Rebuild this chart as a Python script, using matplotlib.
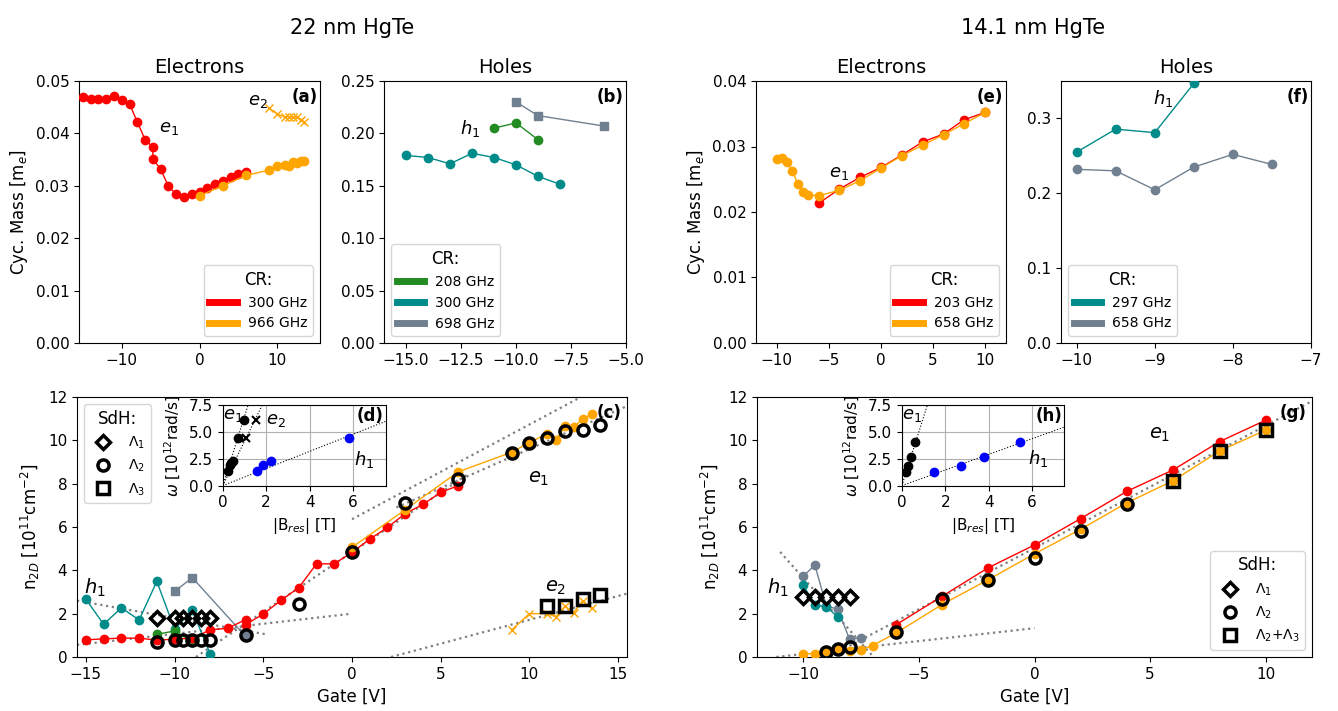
import numpy as np
import matplotlib
matplotlib.use("Agg")
import matplotlib.pyplot as plt
from matplotlib.lines import Line2D

# ---- 22 nm HgTe, electrons (CR) ----
gate_e1_300 = [-15, -14, -13, -12, -11, -10, -9, -8, -7, -6, -6, -5, -4, -3, -2, -1, 0, 1, 2, 3, 4, 5, 6]
mass_e1_300 = [0.0470, 0.0466, 0.0466, 0.0466, 0.0472, 0.0464, 0.0456, 0.0422, 0.0388, 0.0374, 0.0351, 0.0332,
               0.0299, 0.0284, 0.0278, 0.0284, 0.0289, 0.0295, 0.0303, 0.0310, 0.0316, 0.0323, 0.0326]
dens_e1_300 = [0.79, 0.84, 0.87, 0.87, 0.78, 0.82, 0.87, 1.25, 1.33, 1.72, 1.5, 1.98,
               2.62, 3.2, 4.3, 4.3, 4.83, 5.44, 5.98, 6.62, 7.04, 7.6, 7.91]
gate_e1_966 = [0, 3, 6, 9, 10, 11, 11.5, 12, 12.5, 13, 13.5]
mass_e1_966 = [0.0281, 0.0300, 0.0320, 0.0330, 0.0337, 0.0340, 0.0337, 0.0346, 0.0343, 0.0348, 0.0348]
dens_e1_966 = [5.06, 6.8, 8.55, 9.45, 9.9, 10.3, 10.0, 10.65, 10.6, 11.0, 11.2]
gate_e2_966 = [9, 10, 11, 11.5, 12, 12.5, 13, 13.5]
mass_e2_966 = [0.0448, 0.0437, 0.0431, 0.0432, 0.0431, 0.0431, 0.0426, 0.0422]
dens_e2_966 = [1.25, 2.0, 2.0, 1.86, 2.35, 2.05, 2.6, 2.24]

# ---- 22 nm HgTe, holes (CR) ----
gate_h_208 = [-11, -10, -9]
mass_h_208 = [0.205, 0.210, 0.194]
dens_h_208 = [1.05, 1.2, 0.7]
gate_h_300 = [-15, -14, -13, -12, -11, -10, -9, -8]
mass_h_300 = [0.179, 0.177, 0.171, 0.181, 0.177, 0.170, 0.159, 0.1515]
dens_h_300 = [2.67, 1.51, 2.27, 1.71, 3.49, 1.28, 2.16, 0.15]
gate_h_698 = [-10, -9, -6]
mass_h_698 = [0.230, 0.217, 0.207]
dens_h_698 = [3.03, 3.66, 0.95]

# ---- 22 nm SdH ----
sdh1_gate = [-11, -10, -9.5, -9, -8.5, -8]
sdh1_dens = [1.82, 1.82, 1.82, 1.82, 1.82, 1.82]
sdh2_gate = [-11, -10, -9.5, -9, -8.5, -8, -6, -3, 0, 3, 6, 9, 10, 11, 12, 13, 14]
sdh2_dens = [0.68, 0.79, 0.8, 0.78, 0.8, 0.8, 1.02, 2.44, 4.86, 7.12, 8.21, 9.42, 9.87, 10.1, 10.45, 10.5, 10.72]
sdh3_gate = [11, 12, 13, 14]
sdh3_dens = [2.36, 2.36, 2.67, 2.85]

# fit lines (slope, intercept, x range)
fits_c = [(0.55, 4.84, -8.8, 6.5), (0.437, 6.36, 0, 15.5), (0.36, 6.0, 2.5, 15.5),
          (-0.146, 0.34, -15.5, -4.8), (0.093, 2.0, -15.5, 0), (0.22, -0.484, 2.2, 15.5)]

# inset (d)
d_e1_B = [0.23, 0.34, 0.40, 0.46, 0.70, 0.98]
d_e1_w = [1.34, 1.9, 2.15, 2.34, 4.45, 6.15]
d_e2_B = [1.09, 1.52]
d_e2_w = [4.45, 6.15]
d_h1_B = [1.58, 1.86, 2.2, 5.8]
d_h1_w = [1.34, 1.9, 2.34, 4.45]
d_slopes = [6.45, 4.14, 0.80]

# ---- 14.1 nm HgTe ----
gate_g_203 = [-6, -4, -2, 0, 2, 4, 6, 8, 10]
mass_g_203 = [0.0213, 0.0235, 0.0253, 0.0268, 0.0287, 0.0307, 0.0319, 0.0341, 0.0352]
dens_g_203 = [1.48, 2.8, 4.12, 5.17, 6.39, 7.65, 8.64, 9.94, 10.93]
gate_g_658 = [-10, -9.5, -9, -8.5, -8, -7.5, -7, -6, -4, -2, 0, 2, 4, 6, 8, 10]
mass_g_658 = [0.0281, 0.0282, 0.0276, 0.0263, 0.0243, 0.0230, 0.0226, 0.0225, 0.0233, 0.0248,
              0.0267, 0.0286, 0.0302, 0.0318, 0.0335, 0.0352]
dens_g_658 = [0.15, 0.15, 0.26, 0.41, 0.28, 0.33, 0.53, 1.1, 2.42, 3.57, 4.76, 5.9, 7.12, 8.14, 9.51, 10.47]
gate_f_297 = [-10, -9.5, -9, -8.5]
mass_f_297 = [0.255, 0.2857, 0.281, 0.3467]
dens_f_297 = [3.31, 2.42, 2.3, 1.86]
gate_f_658 = [-10, -9.5, -9, -8.5, -8, -7.5]
mass_f_658 = [0.232, 0.230, 0.2047, 0.235, 0.252, 0.2385]
dens_f_658 = [3.72, 4.25, 2.36, 2.2, 0.82, 0.9]

g_sdh1_gate = [-10, -9.5, -9, -8.5, -8]
g_sdh1_dens = [2.77, 2.77, 2.77, 2.77, 2.77]
g_sdh2_gate = [-9, -8.5, -8, -6, -4, -2, 0, 2, 4]
g_sdh2_dens = [0.21, 0.37, 0.46, 1.14, 2.67, 3.54, 4.57, 5.82, 7.07]
g_sdh23_gate = [6, 8, 10]
g_sdh23_dens = [8.14, 9.51, 10.47]

fits_g = [(0.565, 5.03, -8.9, 12), (-1.2, -8.35, -11, -6.97), (0.119, 1.33, -11.16, 0)]

# inset (h)
h_e1_B = [0.19, 0.3, 0.41, 0.61]
h_e1_w = [1.27, 1.88, 2.65, 4.1]
h_h1_B = [1.5, 2.71, 3.77, 5.46]
h_h1_w = [1.27, 1.88, 2.65, 4.1]
h_slopes = [6.4, 0.73]

RED = 'red'
ORA = 'orange'
GRN = 'forestgreen'
TEAL = 'darkcyan'
GRAY = 'slategray'

plt.rcParams['font.size'] = 11
plt.rcParams['xtick.labelsize'] = 11
plt.rcParams['ytick.labelsize'] = 11
fig = plt.figure(figsize=(13.38, 7.11), dpi=100)
W, H = 1338., 711.


def box(x0, x1, y0, y1):
    return [x0 / W, 1 - y1 / H, (x1 - x0) / W, (y1 - y0) / H]


ax_a = fig.add_axes(box(79, 320, 81, 343))
ax_b = fig.add_axes(box(384, 626, 81, 343))
ax_e = fig.add_axes(box(756, 1006, 81, 343))
ax_f = fig.add_axes(box(1061, 1311, 81, 343))
ax_c = fig.add_axes(box(77, 627, 397, 657))
ax_g = fig.add_axes(box(757, 1312, 397, 657))


def dots(ax, x, y, c, m='o', ms=6, z=3):
    ax.plot(x, y, marker=m, color=c, ms=ms, lw=1, zorder=z)


def hollow(ax, x, y, m, ms=8):
    ax.plot(x, y, ls='none', marker=m, ms=ms, mfc='none', mec='k', mew=2.5, zorder=6)


def tag(ax, s):
    ax.text(0.99, 0.975, s, transform=ax.transAxes, ha='right', va='top',
            fontweight='bold', fontsize=12, zorder=10)


def cr_legend(ax, labels, colors, loc):
    hs = [Line2D([], [], color=c, lw=5) for c in colors]
    leg = ax.legend(hs, labels, title='CR:', loc=loc, fontsize=10, title_fontsize=12)
    return leg


# (a)
dots(ax_a, gate_e1_300, mass_e1_300, RED)
dots(ax_a, gate_e1_966, mass_e1_966, ORA)
dots(ax_a, gate_e2_966, mass_e2_966, ORA, m='x')
ax_a.set_xlim(-15.5, 15.5)
ax_a.set_ylim(0, 0.05)
ax_a.set_xticks([-10, 0, 10])
ax_a.set_yticks(np.arange(0, 0.051, 0.01))
ax_a.yaxis.set_major_formatter(matplotlib.ticker.FormatStrFormatter('%.2f'))
ax_a.set_ylabel('Cyc. Mass [m$_e$]', fontsize=12)
ax_a.set_title('Electrons', fontsize=14)
ax_a.text(-3.9, 0.041, '$e_1$', fontsize=13, ha='center', va='center')
ax_a.text(7.5, 0.0462, '$e_2$', fontsize=13, ha='center', va='center')
tag(ax_a, '(a)')
cr_legend(ax_a, ['300 GHz', '966 GHz'], [RED, ORA], 'lower right')

# (b)
dots(ax_b, gate_h_208, mass_h_208, GRN)
dots(ax_b, gate_h_300, mass_h_300, TEAL)
dots(ax_b, gate_h_698, mass_h_698, GRAY, m='s')
ax_b.set_xlim(-16, -5)
ax_b.set_ylim(0, 0.25)
ax_b.set_title('Holes', fontsize=14)
ax_b.text(-12.1, 0.205, '$h_1$', fontsize=13, ha='center', va='center')
tag(ax_b, '(b)')
cr_legend(ax_b, ['208 GHz', '300 GHz', '698 GHz'], [GRN, TEAL, GRAY], 'lower left')

# (e)
dots(ax_e, gate_g_203, mass_g_203, RED)
dots(ax_e, gate_g_658, mass_g_658, ORA)
ax_e.set_xlim(-12, 12)
ax_e.set_ylim(0, 0.04)
ax_e.set_yticks(np.arange(0, 0.041, 0.01))
ax_e.yaxis.set_major_formatter(matplotlib.ticker.FormatStrFormatter('%.2f'))
ax_e.set_ylabel('Cyc. Mass [m$_e$]', fontsize=12)
ax_e.set_title('Electrons', fontsize=14)
ax_e.text(-4.0, 0.026, '$e_1$', fontsize=13, ha='center', va='center')
tag(ax_e, '(e)')
cr_legend(ax_e, ['203 GHz', '658 GHz'], [RED, ORA], 'lower right')

# (f)
dots(ax_f, gate_f_297, mass_f_297, TEAL)
dots(ax_f, gate_f_658, mass_f_658, GRAY)
ax_f.set_xlim(-10.2, -7)
ax_f.set_ylim(0, 0.35)
ax_f.set_xticks([-10, -9, -8, -7])
ax_f.set_yticks([0, 0.1, 0.2, 0.3])
ax_f.set_title('Holes', fontsize=14)
ax_f.text(-8.89, 0.327, '$h_1$', fontsize=13, ha='center', va='center')
tag(ax_f, '(f)')
cr_legend(ax_f, ['297 GHz', '658 GHz'], [TEAL, GRAY], 'lower left')

# (c)
for k, b, xa, xb in fits_c:
    xs = np.array([xa, xb])
    ax_c.plot(xs, k * xs + b, ls=':', color='gray', lw=1.6, zorder=2)
dots(ax_c, gate_h_300, dens_h_300, TEAL)
dots(ax_c, gate_h_208, dens_h_208, GRN)
dots(ax_c, gate_h_698, dens_h_698, GRAY, m='s')
dots(ax_c, gate_e1_300, dens_e1_300, RED)
dots(ax_c, gate_e1_966, dens_e1_966, ORA)
dots(ax_c, gate_e2_966, dens_e2_966, ORA, m='x')
hollow(ax_c, sdh1_gate, sdh1_dens, 'D', ms=7)
hollow(ax_c, sdh2_gate, sdh2_dens, 'o')
hollow(ax_c, sdh3_gate, sdh3_dens, 's')
ax_c.set_xlim(-15.5, 15.5)
ax_c.set_ylim(0, 12)
ax_c.set_xlabel('Gate [V]', fontsize=12)
ax_c.set_ylabel('n$_{2D}$ [10$^{11}$cm$^{-2}$]', fontsize=12)
ax_c.text(-14.5, 3.2, '$h_1$', fontsize=14, ha='center', va='center')
ax_c.text(10.5, 8.25, '$e_1$', fontsize=14, ha='center', va='center')
ax_c.text(11.5, 3.2, '$e_2$', fontsize=14, ha='center', va='center')
tag(ax_c, '(c)')
hs = [Line2D([], [], ls='none', marker=m, ms=ms, mfc='none', mec='k', mew=2.5)
      for m, ms in [('D', 7), ('o', 8), ('s', 8)]]
ax_c.legend(hs, [r'$\Lambda_1$', r'$\Lambda_2$', r'$\Lambda_3$'], title='SdH:', loc='upper left',
            fontsize=10, title_fontsize=12)

# (d) inset
ax_d = ax_c.inset_axes([0.265, 0.659, 0.296, 0.309])
Bs = np.array([0, 7.5])
for k in d_slopes:
    ax_d.plot(Bs, k * Bs, ls=':', color='k', lw=0.8)
ax_d.plot(d_e1_B, d_e1_w, 'o', color='k', ms=6)
ax_d.plot(d_e2_B, d_e2_w, 'x', color='k', ms=6, mew=1.5)
ax_d.plot(d_h1_B, d_h1_w, 'o', color='blue', ms=6)
ax_d.set_xlim(0, 7.5)
ax_d.set_ylim(0, 7.5)
ax_d.set_xticks([0, 2, 4, 6])
ax_d.set_yticks([0, 2.5, 5, 7.5])
ax_d.grid(True)
ax_d.set_xlabel('|B$_{res}$| [T]', fontsize=11)
ax_d.set_ylabel(r'$\omega$ [10$^{12}$rad/s]', fontsize=11)
ax_d.text(0.45, 6.6, '$e_1$', fontsize=13, ha='center', va='center')
ax_d.text(2.45, 6.1, '$e_2$', fontsize=13, ha='center', va='center')
ax_d.text(6.5, 2.45, '$h_1$', fontsize=13, ha='center', va='center')
tag(ax_d, '(d)')

# (g)
for k, b, xa, xb in fits_g:
    xs = np.array([xa, xb])
    ax_g.plot(xs, k * xs + b, ls=':', color='gray', lw=1.6, zorder=2)
dots(ax_g, gate_f_658, dens_f_658, GRAY)
dots(ax_g, gate_f_297, dens_f_297, TEAL)
dots(ax_g, gate_g_203, dens_g_203, RED)
dots(ax_g, gate_g_658, dens_g_658, ORA)
hollow(ax_g, g_sdh1_gate, g_sdh1_dens, 'D', ms=7)
hollow(ax_g, g_sdh2_gate, g_sdh2_dens, 'o')
hollow(ax_g, g_sdh23_gate, g_sdh23_dens, 's')
ax_g.set_xlim(-12, 12)
ax_g.set_ylim(0, 12)
ax_g.set_xlabel('Gate [V]', fontsize=12)
ax_g.set_ylabel('n$_{2D}$ [10$^{11}$cm$^{-2}$]', fontsize=12)
ax_g.text(-11.1, 3.2, '$h_1$', fontsize=14, ha='center', va='center')
ax_g.text(5.4, 10.25, '$e_1$', fontsize=14, ha='center', va='center')
tag(ax_g, '(g)')
ax_g.legend(hs, [r'$\Lambda_1$', r'$\Lambda_2$', r'$\Lambda_2$+$\Lambda_3$'], title='SdH:',
            loc='lower right', fontsize=10, title_fontsize=12)

# (h) inset
ax_h = ax_g.inset_axes([0.261, 0.659, 0.293, 0.309])
for k in h_slopes:
    ax_h.plot(Bs, k * Bs, ls=':', color='k', lw=0.8)
ax_h.plot(h_e1_B, h_e1_w, 'o', color='k', ms=6)
ax_h.plot(h_h1_B, h_h1_w, 'o', color='blue', ms=6)
ax_h.set_xlim(0, 7.5)
ax_h.set_ylim(0, 7.5)
ax_h.set_xticks([0, 2, 4, 6])
ax_h.set_yticks([0, 2.5, 5, 7.5])
ax_h.grid(True)
ax_h.set_xlabel('|B$_{res}$| [T]', fontsize=11)
ax_h.set_ylabel(r'$\omega$ [10$^{12}$rad/s]', fontsize=11)
ax_h.text(0.45, 6.6, '$e_1$', fontsize=13, ha='center', va='center')
ax_h.text(6.3, 2.55, '$h_1$', fontsize=13, ha='center', va='center')
tag(ax_h, '(h)')

fig.text(0.2635, 0.96, '22 nm HgTe', fontsize=15, ha='center', va='center')
fig.text(0.7724, 0.96, '14.1 nm HgTe', fontsize=15, ha='center', va='center')

fig.savefig('out.png', dpi=100)
